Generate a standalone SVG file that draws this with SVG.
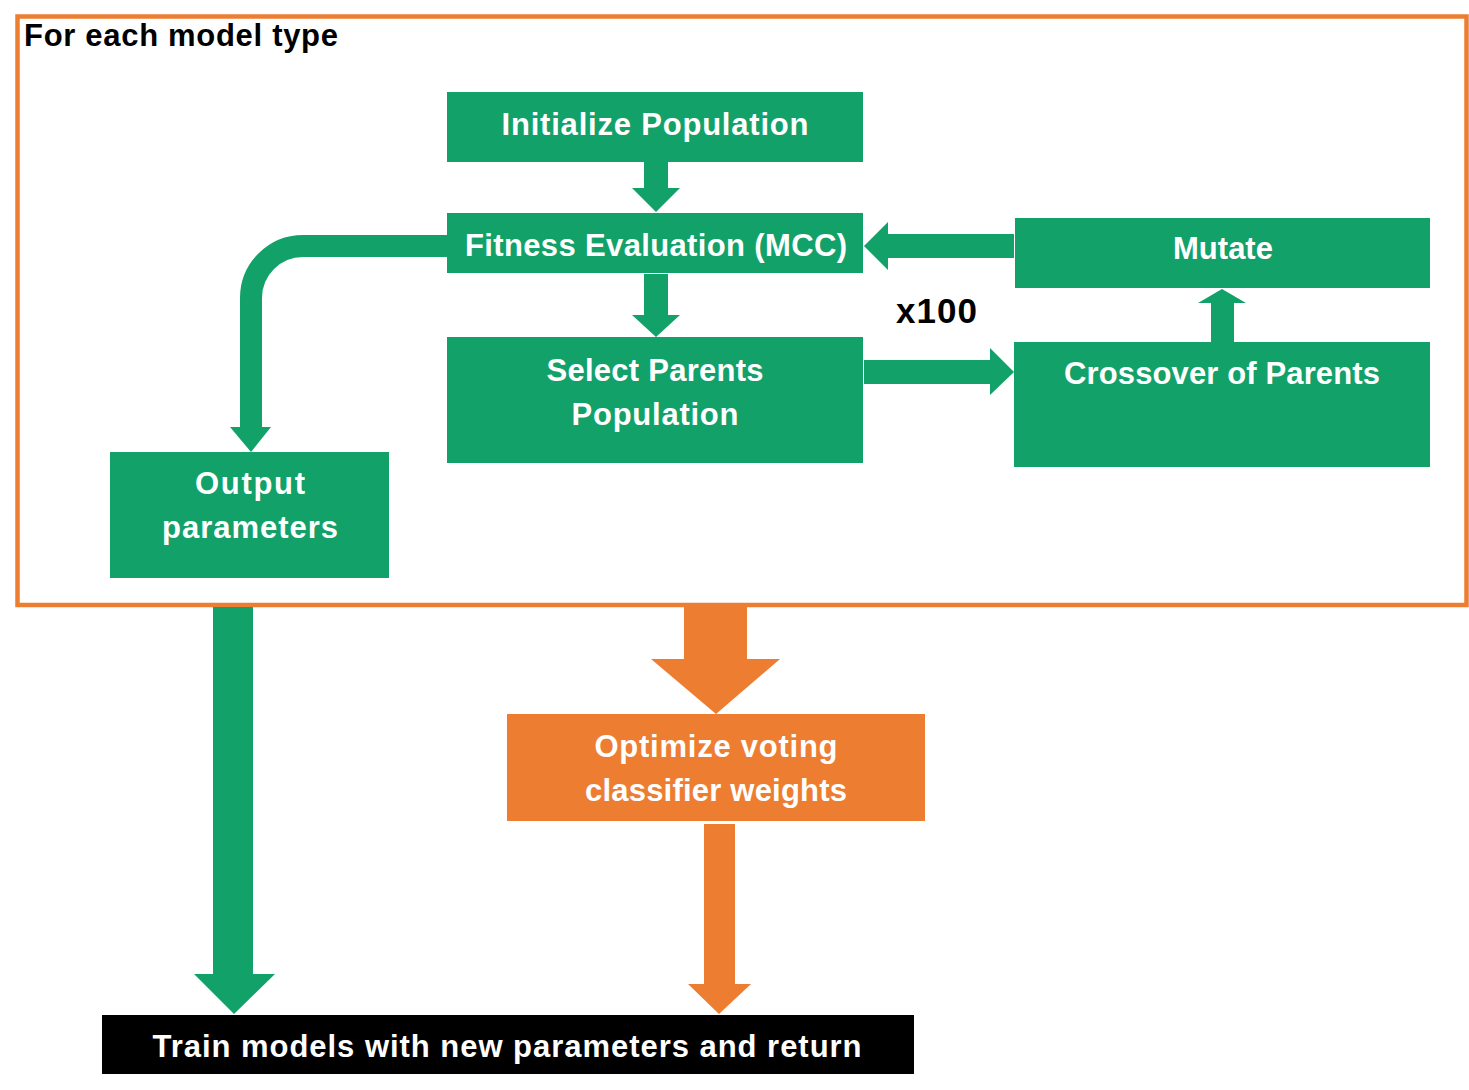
<svg xmlns="http://www.w3.org/2000/svg" width="1469" height="1090" viewBox="0 0 1469 1090">
<style>
.g{fill:#13A16A}
.o{fill:#ED7D31}
.t{font-family:"Liberation Sans",Arial,sans-serif;font-weight:bold;font-size:31px;fill:#fff;text-anchor:middle}
.k{font-family:"Liberation Sans",Arial,sans-serif;font-weight:bold;fill:#000}
</style>
<rect width="1469" height="1090" fill="#fff"/>
<g id="frame">
<rect x="17.5" y="16.5" width="1449" height="588.5" fill="none" stroke="#ED7D31" stroke-width="4.5"/>
<text class="k" x="24" y="46" font-size="31" textLength="314">For each model type</text>
</g>
<g id="connectors">
<polygon class="g" points="644,162 668,162 668,188 680,188 656,212 632,188 644,188"/>
<polygon class="g" points="644,274 668,274 668,315 680,315 656,337 632,315 644,315"/>
<path d="M447,246 H303 A52,52 0 0 0 251,298 V428" fill="none" stroke="#13A16A" stroke-width="22"/>
<polygon class="g" points="230,427 271,427 251,452"/>
<polygon class="g" points="1014,234 888,234 888,222 864,246 888,270 888,258 1014,258"/>
<polygon class="g" points="864,360 990,360 990,348 1014,372 990,395 990,384 864,384"/>
<polygon class="g" points="1211,342 1211,303 1198,303 1222,289 1246,303 1234,303 1234,342"/>
<polygon class="g" points="213,607 253,607 253,974 275,974 234,1014 194,974 213,974"/>
<polygon class="o" points="684,607 747,607 747,659 780,659 716,714 651,659 684,659"/>
<polygon class="o" points="704,824 735,824 735,984 751,984 719,1014 688,984 704,984"/>
</g>
<g id="init"><rect class="g" x="447" y="92" width="416" height="70"/><text class="t" x="655" y="135" textLength="307">Initialize Population</text></g>
<g id="fitness"><rect class="g" x="447" y="213" width="416" height="60"/><text class="t" x="656" y="256" textLength="382">Fitness Evaluation (MCC)</text></g>
<g id="select"><rect class="g" x="447" y="337" width="416" height="126"/><text class="t" x="655" y="381" textLength="217">Select Parents</text><text class="t" x="655" y="425" textLength="167">Population</text></g>
<g id="mutate"><rect class="g" x="1015" y="218" width="415" height="70"/><text class="t" x="1223" y="259" font-size="33">Mutate</text></g>
<g id="crossover"><rect class="g" x="1014" y="342" width="416" height="125"/><text class="t" x="1222" y="384" textLength="316">Crossover of Parents</text></g>
<g id="output"><rect class="g" x="110" y="452" width="279" height="126"/><text class="t" x="250" y="494" textLength="110">Output</text><text class="t" x="250" y="538" textLength="176">parameters</text></g>
<g id="x100"><text class="k" x="896" y="323" font-size="35" textLength="81">x100</text></g>
<g id="optimize"><rect class="o" x="507" y="714" width="418" height="107"/><text class="t" x="716" y="757" textLength="243">Optimize voting</text><text class="t" x="716" y="801" textLength="262">classifier weights</text></g>
<g id="train"><rect x="102" y="1015" width="812" height="59" fill="#000"/><text class="t" x="507" y="1057" textLength="709">Train models with new parameters and return</text></g>
</svg>
